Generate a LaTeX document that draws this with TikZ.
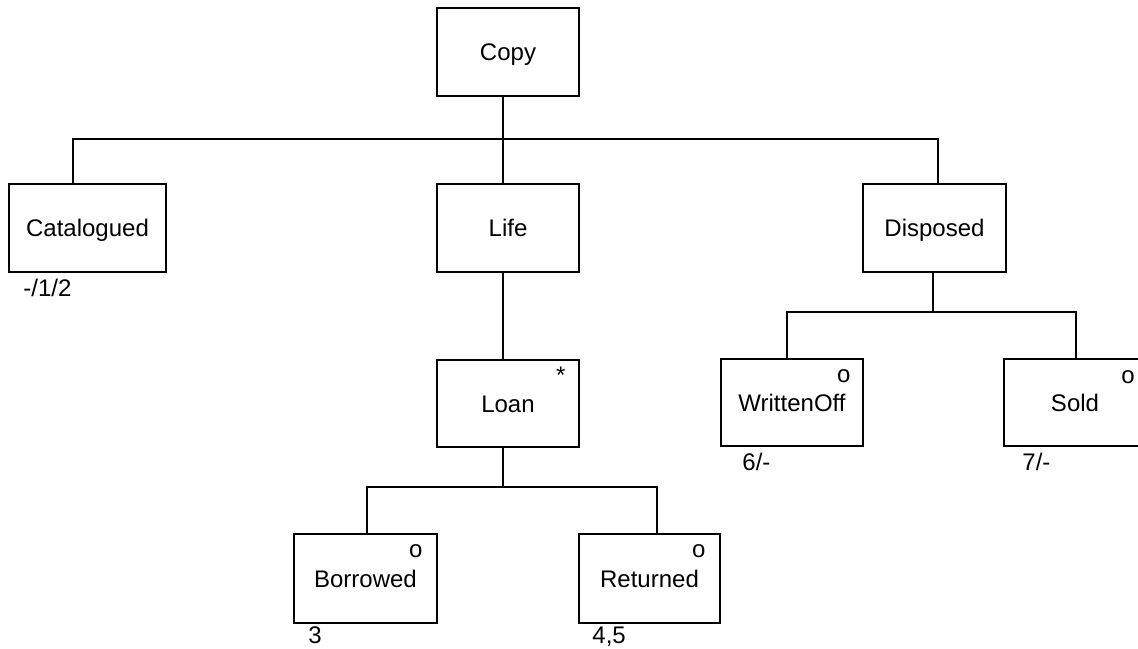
\documentclass[tikz,border=0pt]{standalone}
\usepackage{fontspec}
\setmainfont{Liberation Sans}
\begin{document}
\begin{tikzpicture}[x=1pt,y=-1pt,
  box/.style={draw,line width=1.6pt,minimum width=142pt,minimum height=88pt,inner sep=0pt,
    text height=17pt,text depth=0pt,font=\fontsize{24}{28}\selectfont},
  conn/.style={line width=1.2pt},
  lbl/.style={anchor=base west,inner sep=0pt,font=\fontsize{24}{28}\selectfont},
  flag/.style={anchor=base,inner sep=0pt,font=\fontsize{24}{28}\selectfont}]
\useasboundingbox (0,0) rectangle (1138,648);
\clip (0,0) rectangle (1138,648);
% boxes
\node[box] (copy) at (508,52) {Copy};
\node[box,minimum width=157pt] (cat) at (87.5,228) {Catalogued};
\node[box] (life) at (508,228) {Life};
\node[box,minimum width=143pt] (disp) at (934.5,228) {Disposed};
\node[box,minimum height=87pt] (loan) at (508,403.5) {Loan};
\node[box,minimum height=87pt] (woff) at (792,402.5) {WrittenOff};
\node[box,minimum height=87pt] (sold) at (1075,402.5) {Sold};
\node[box,minimum width=143pt,minimum height=89pt] (bor) at (365.5,578.5) {Borrowed};
\node[box,minimum width=141pt,minimum height=89pt] (ret) at (649.5,578.5) {Returned};
% junction coordinates
\coordinate (j1) at (503,139);
\coordinate (jc) at (73,139);
\coordinate (jd) at (938,139);
\coordinate (j2) at (503,487);
\coordinate (jb) at (367,487);
\coordinate (jr) at (657,487);
\coordinate (j3) at (933,312);
\coordinate (jw) at (787,312);
\coordinate (js) at (1076,312);
% connectors
\draw[conn] (copy.south -| j1) -- (life.north -| j1);
\draw[conn] (cat.north -| jc) -- (jc) -- (jd) -- (disp.north -| jd);
\draw[conn] (life.south -| j1) -- (loan.north -| j1);
\draw[conn] (loan.south -| j2) -- (j2);
\draw[conn] (bor.north -| jb) -- (jb) -- (jr) -- (ret.north -| jr);
\draw[conn] (disp.south -| j3) -- (j3);
\draw[conn] (woff.north -| jw) -- (jw) -- (js) -- (sold.north -| js);
% markers
\node[flag] (mloan) at ([xshift=-19pt,yshift=-24pt]loan.north east) {*};
\node[flag] (mwoff) at ([xshift=-20pt,yshift=-24pt]woff.north east) {o};
\node[flag] (msold) at (1128,383) {o};
\node[flag] (mbor) at ([xshift=-22pt,yshift=-24pt]bor.north east) {o};
\node[flag] (mret) at ([xshift=-22pt,yshift=-24pt]ret.north east) {o};
% labels
\node[lbl] (lcat) at ([xshift=15pt,yshift=-24pt]cat.south west) {-/1/2};
\node[lbl] (lwoff) at ([xshift=22pt,yshift=-24pt]woff.south west) {6/-};
\node[lbl] (lsold) at ([xshift=19pt,yshift=-24pt]sold.south west) {7/-};
\node[lbl] (lbor) at ([xshift=15pt,yshift=-20pt]bor.south west) {3};
\node[lbl] (lret) at ([xshift=14pt,yshift=-20pt]ret.south west) {4,5};
\end{tikzpicture}
\end{document}
